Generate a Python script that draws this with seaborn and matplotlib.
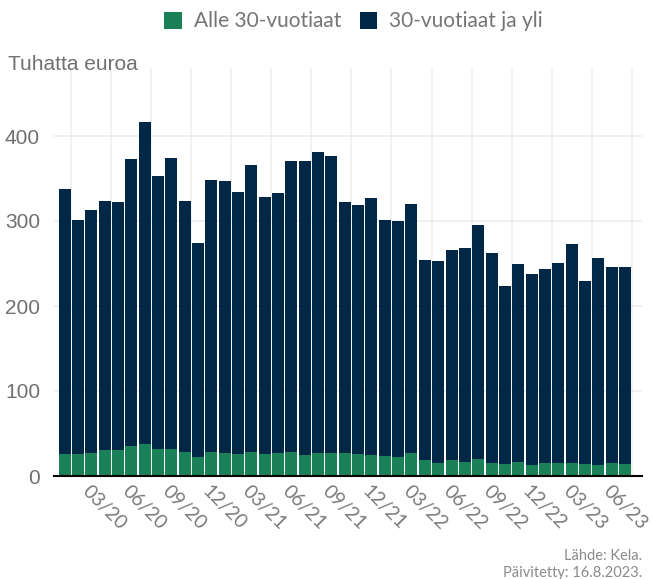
import numpy as np
import pandas as pd
import matplotlib
matplotlib.use("Agg")
import matplotlib.pyplot as plt
import seaborn as sns
from matplotlib.ticker import FixedLocator
from matplotlib.patches import Patch

months = [f"{m:02d}/{y % 100:02d}" for y in (2020, 2021, 2022, 2023) for m in range(1, 13)][:43]

total = [338, 301, 313, 324, 322, 373, 417, 353, 374, 323,
         274, 348, 347, 334, 366, 328, 333, 371, 371, 381,
         376, 322, 319, 327, 301, 300, 320, 254, 253, 266,
         268, 295, 262, 223, 249, 238, 244, 251, 273, 229,
         257, 246, 246]
under30 = [25.5, 25.5, 26.7, 30.2, 30.2, 34.9, 37.3, 31.4, 31.4, 27.9,
           22.0, 27.9, 26.7, 25.5, 27.9, 25.5, 26.7, 27.9, 24.3, 26.7,
           26.7, 26.7, 25.5, 24.3, 23.2, 22.0, 26.7, 18.5, 15.0, 18.5,
           16.1, 19.6, 15.0, 13.8, 16.1, 12.6, 15.0, 15.0, 15.0, 13.8,
           12.6, 15.0, 13.8]

series_names = ["Alle 30-vuotiaat", "30-vuotiaat ja yli"]
colors = ["#1a8058", "#002846"]
yticks = [0, 100, 200, 300, 400]
tick_labels = ["03/20", "06/20", "09/20", "12/20", "03/21", "06/21", "09/21",
               "12/21", "03/22", "06/22", "09/22", "12/22", "03/23", "06/23"]

df = pd.DataFrame({"month": months, "total": total, "under30": under30})

sns.set_theme(style="white")
plt.rcParams["font.family"] = ["Liberation Sans", "DejaVu Sans"]

fig = plt.figure(figsize=(6.52, 5.79), dpi=100)
ax = fig.add_axes([54 / 652, 1 - 476 / 579, (642 - 54) / 652, (476 - 68) / 579])

sns.barplot(data=df, x="month", y="total", order=months, color=colors[1],
            width=0.9, saturation=1, ax=ax, zorder=3)
sns.barplot(data=df, x="month", y="under30", order=months, color=colors[0],
            width=0.9, saturation=1, ax=ax, zorder=4)
for p in ax.patches:
    p.set_linewidth(0)

ax.set_xlim(-0.8, 43.28)
ax.set_ylim(0, 480)
ax.set_xlabel("")
ax.set_ylabel("")

ax.set_yticks(yticks)
ax.set_yticklabels([str(v) for v in yticks], fontsize=15, color="#707070")

tick_pos = [months.index(t) for t in tick_labels]
ax.set_xticks(tick_pos)
ax.set_xticklabels(tick_labels, rotation=-45, ha="left", va="top",
                   rotation_mode="anchor", fontsize=14, color="#7a7a7a",
                   family=["Lato", "DejaVu Sans"])
ax.xaxis.set_minor_locator(FixedLocator(np.arange(0.5, 43, 1.5)))
ax.tick_params(axis="both", which="both", length=0)
ax.tick_params(axis="x", pad=4.5)
ax.tick_params(axis="y", pad=10)

ax.grid(False)
ax.grid(which="minor", axis="x", color="#f0f0f0", linewidth=1.2, zorder=0)
ax.grid(which="major", axis="y", color="#ececec", linewidth=1.2, zorder=0)
ax.set_axisbelow(True)

for s in ["top", "right", "left"]:
    ax.spines[s].set_visible(False)
ax.spines["bottom"].set_color("black")
ax.spines["bottom"].set_linewidth(1.5)
ax.spines["bottom"].set_zorder(5)

fig.text(8 / 652, 1 - 70 / 579, "Tuhatta euroa", fontsize=15, color="#707070",
         ha="left", va="baseline")

handles = [Patch(facecolor=c, edgecolor="none") for c in colors]
fig.legend(handles, series_names, loc="upper center", bbox_to_anchor=(0.542, 1.0),
           ncol=2, frameon=False, prop={"family": "Lato", "size": 15},
           labelcolor="#757575", handlelength=0.85, handleheight=0.85,
           handletextpad=0.55, columnspacing=0.9, borderaxespad=0.15)

fig.text(642 / 652, 1 - 560 / 579, "Lähde: Kela.", fontsize=10.5, color="#8a8a8a",
         ha="right", va="baseline", family=["Lato", "DejaVu Sans"])
fig.text(642 / 652, 1 - 577 / 579, "Päivitetty: 16.8.2023.", fontsize=10.5,
         color="#8a8a8a", ha="right", va="baseline", family=["Lato", "DejaVu Sans"])

fig.savefig("out.png", dpi=100)
